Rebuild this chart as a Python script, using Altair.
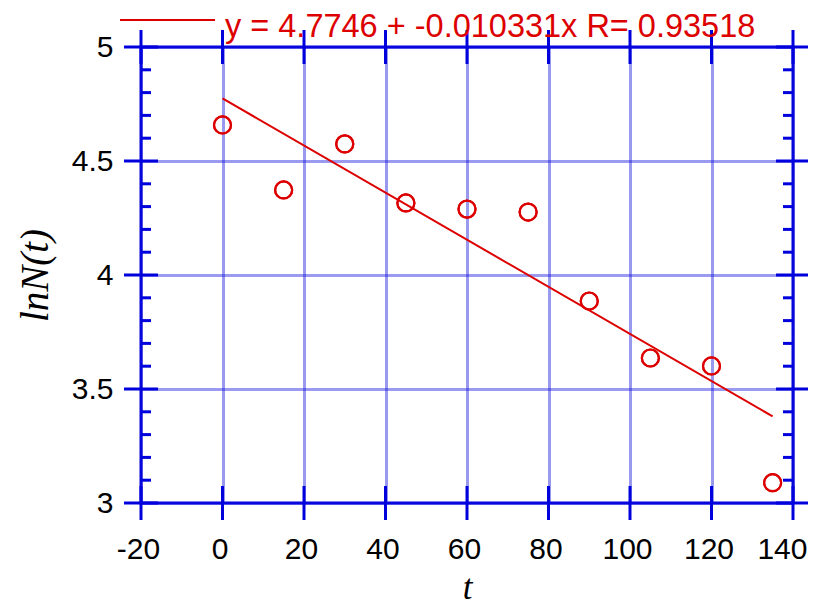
import altair as alt
import pandas as pd

# ---- data ----
t_values = [0, 15, 30, 45, 60, 75, 90, 105, 120, 135]
lnN_values = [4.658, 4.373, 4.575, 4.316, 4.289, 4.276, 3.886, 3.636, 3.601, 3.089]
fit_t = [0, 135]
fit_lnN = [4.7746, 3.3799]
x_ticks = [-20, 0, 20, 40, 60, 80, 100, 120, 140]
y_ticks = [3, 3.5, 4, 4.5, 5]
y_minor = [3.1, 3.2, 3.3, 3.4, 3.6, 3.7, 3.8, 3.9, 4.1, 4.2, 4.3, 4.4, 4.6, 4.7, 4.8, 4.9]
legend_text = ["y = 4.7746 + -0.010331x R= 0.93518"]

BLUE = "#0000DD"
GRID = "#1010DD"
RED = "#DD0000"
W, H = 652, 456

xs = alt.Scale(domain=[-20, 140], nice=False, zero=False)
ys = alt.Scale(domain=[3, 5], nice=False, zero=False)

x_axis = alt.Axis(
    values=x_ticks, title="t", ticks=False, tickSize=0, domain=False,
    labelFont="Liberation Sans", labelFontSize=30, labelColor="black",
    labelPadding=31, labelFlush=False,
    labelExpr="replace(datum.label, '\u2212', '-')",
    labelAlign={"condition": {"test": "datum.value == 140", "value": "right"}, "value": "center"},
    labelOffset={"condition": {"test": "datum.value == 140", "value": 14}, "value": -3},
    titleFont="Liberation Serif", titleFontStyle="italic", titleFontWeight="normal",
    titleFontSize=35, titleColor="black", titlePadding=6,
    grid=True, gridColor=GRID, gridDash=[1, 1], gridWidth=3, gridOpacity=0.85,
)
y_axis = alt.Axis(
    values=y_ticks, title="lnN(t)", ticks=False, tickSize=0, domain=False,
    labelFont="Liberation Sans", labelFontSize=30, labelColor="black",
    labelPadding=28, labelFlush=False, format="~g",
    titleFont="Liberation Serif", titleFontStyle="italic", titleFontWeight="normal",
    titleFontSize=39, titleColor="black", titlePadding=16,
    grid=True, gridColor=GRID, gridDash=[1, 1], gridWidth=3, gridOpacity=0.85,
)

pts_df = pd.DataFrame({"t": t_values, "lnN": lnN_values})
fit_df = pd.DataFrame({"t": fit_t, "lnN": fit_lnN})
xt_df = pd.DataFrame({"v": x_ticks})
yt_df = pd.DataFrame({"v": y_ticks})
ym_df = pd.DataFrame({"v": y_minor})
leg_df = pd.DataFrame({"label": legend_text})

points = alt.Chart(pts_df).mark_point(
    shape="circle", filled=False, size=290, strokeWidth=2.2, color=RED, opacity=1
).encode(
    x=alt.X("t:Q", scale=xs, axis=x_axis),
    y=alt.Y("lnN:Q", scale=ys, axis=y_axis),
)

fit = alt.Chart(fit_df).mark_line(color=RED, strokeWidth=2).encode(
    x=alt.X("t:Q", scale=xs, axis=x_axis),
    y=alt.Y("lnN:Q", scale=ys, axis=y_axis),
)

def vticks(y_at):
    return alt.Chart(xt_df).mark_tick(orient="vertical", size=34, thickness=3, color=BLUE, opacity=1).encode(
        x=alt.X("v:Q", scale=xs, axis=x_axis),
        y=alt.datum(y_at, scale=ys, axis=y_axis),
    )

def hticks(x_at, df, size, offset):
    mk = dict(orient="horizontal", size=size, thickness=3, color=BLUE, opacity=1)
    if offset:
        mk["xOffset"] = offset
    return alt.Chart(df).mark_tick(**mk).encode(
        y=alt.Y("v:Q", scale=ys, axis=y_axis),
        x=alt.datum(x_at, scale=xs, axis=x_axis),
    )

legend_line = alt.Chart(leg_df).mark_rule(color=RED, strokeWidth=2).encode(
    x=alt.value(-21), x2=alt.value(74), y=alt.value(-27)
)
legend_label = alt.Chart(leg_df).mark_text(
    color=RED, fontSize=32.5, font="Liberation Sans", align="left", baseline="alphabetic"
).encode(
    x=alt.value(84), y=alt.value(-10), text="label:N"
)

chart = alt.layer(
    points, fit,
    vticks(3), vticks(5),
    hticks(-20, yt_df, 34, 0), hticks(140, yt_df, 34, 0),
    hticks(-20, ym_df, 10, 5), hticks(140, ym_df, 10, -5),
    points,
    legend_line, legend_label,
).properties(
    width=W, height=H,
    autosize=alt.AutoSizeParams(type="none"),
    padding={"left": 133, "top": 39, "right": 15, "bottom": 104},
    background="white",
).configure_view(
    stroke=BLUE, strokeWidth=3
)

chart.save("out.html", embed_options={"renderer": "svg", "actions": False})
